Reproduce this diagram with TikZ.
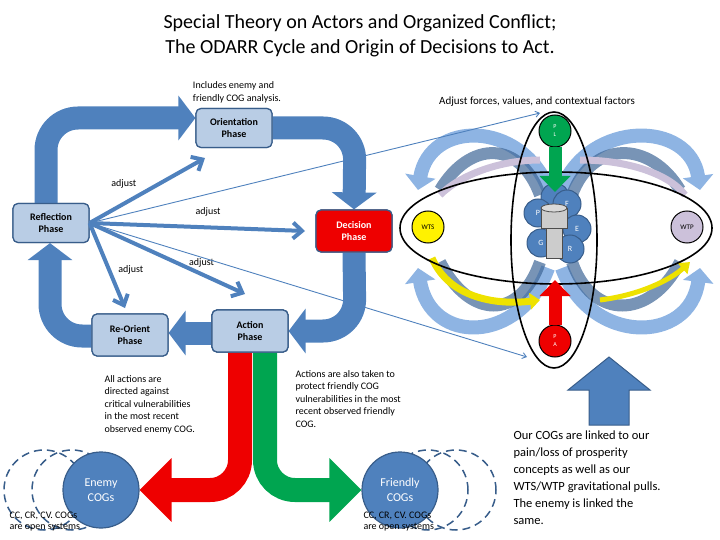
\documentclass[tikz,border=0pt]{standalone}
\usepackage{fontspec}
\setmainfont{Carlito}
\usetikzlibrary{arrows.meta,shapes.geometric}
\definecolor{band}{HTML}{4F81BD}
\definecolor{boxfill}{HTML}{B9CDE5}
\definecolor{boxline}{HTML}{385D8A}
\definecolor{lightarc}{HTML}{8EB4E3}
\definecolor{ocol}{HTML}{00A550}
\definecolor{rcol}{HTML}{EE0000}
\definecolor{wtp}{HTML}{CCC1DA}
\tikzset{
  phase/.style={draw=boxline, line width=1.2pt, fill=boxfill, rounded corners=5pt,
    minimum width=76pt, minimum height=39pt, align=center, font=\fontsize{10}{12}\selectfont\bfseries},
  loop/.style={draw=band, line width=23pt, rounded corners=32pt,
    -{Triangle[width=44pt,length=17pt]}},
  adj/.style={draw=band, line width=4pt, -{Straight Barb[width=16pt,length=9pt]}},
  thin/.style={draw=band, line width=0.9pt, -{Straight Barb[width=6pt,length=4pt]}},
  ball/.style={circle, draw=black, line width=1pt, minimum size=32pt, inner sep=0pt,
    font=\fontsize{7}{8}\selectfont},
  cog/.style={circle, fill=band, draw=boxline, line width=1pt, minimum size=28pt, inner sep=0pt,
    text=white, font=\fontsize{8}{9}\selectfont},
  big/.style={circle, fill=band, draw=boxline, line width=1.2pt, minimum size=76pt,
    align=center, text=white, font=\fontsize{12}{15}\selectfont},
  dsh/.style={circle, draw=boxline, dashed, line width=1.5pt, dash pattern=on 8pt off 5pt, minimum size=80pt},
  arcA/.style={draw=lightarc, line width=14pt, -{Triangle[width=30pt,length=14pt]}},
  arcB/.style={draw=band!80!black, opacity=0.7, line width=12pt},
  txt/.style={align=left, font=\fontsize{10}{12.5}\selectfont},
}
\begin{document}
\begin{tikzpicture}[x=1pt,y=-1pt]
\useasboundingbox (0,0) rectangle (720,540);

% title
\node[font=\fontsize{20}{25}\selectfont, align=center] (title) at (360,36)
  {Special Theory on Actors and Organized Conflict;\\The ODARR Cycle and Origin of Decisions to Act.};
\node[txt, font=\fontsize{10}{13}\selectfont] (inc) at (237,92) {Includes enemy and\\friendly COG analysis.};
\node[font=\fontsize{11}{13}\selectfont] (adjf) at (537,102) {Adjust forces, values, and contextual factors};

% phase boxes
\node[phase] (ori) at (234,128) {Orientation\\Phase};
\node[phase] (ref) at (51,223) {Reflection\\Phase};
\node[phase, fill=rcol, text=white, minimum height=42pt] (dec) at (354,231) {Decision\\Phase};
\node[phase, minimum height=42pt] (reo) at (130,335) {Re-Orient\\Phase};
\node[phase, minimum height=42pt] (act) at (250,331) {Action\\Phase};

% main loop
\coordinate (c1) at (46,118);  \coordinate (c2) at (355,128);
\coordinate (c3) at (355,331); \coordinate (c4) at (50,336);
\begin{scope}[on background layer/.style={}]
\draw[loop] (ref.north -| 46,0) -- (c1) -- (ori.west |- c1);
\draw[loop] (ori.east |- c2) -- (c2) -- (dec.north);
\draw[loop] (dec.south) -- (c3) -- (act.east |- c3);
\draw[loop] (act.west |- 0,333) -- (reo.east |- 0,333);
\draw[loop] (reo.west |- c4) -- (c4) -- (ref.south -| 50,0);
\end{scope}
\node[phase] at (ori) {Orientation\\Phase};
\node[phase] at (ref) {Reflection\\Phase};
\node[phase, fill=rcol, text=white, minimum height=42pt] at (dec) {Decision\\Phase};
\node[phase, minimum height=42pt] at (reo) {Re-Orient\\Phase};
\node[phase, minimum height=42pt] at (act) {Action\\Phase};

% adjust arrows
\coordinate (a1) at (205,158); \coordinate (a2) at (305,231);
\coordinate (a3) at (245,294); \coordinate (a4) at (125,308);
\draw[adj] (ref.east) -- (a1) node[pos=0.45, above left, black, font=\fontsize{10}{12}\selectfont] {adjust};
\draw[adj] (ref.east) -- (a2) node[pos=0.55, above=6pt, black, font=\fontsize{10}{12}\selectfont] {adjust};
\draw[adj] (ref.east) -- (a3) node[pos=0.72, above=2pt, black, font=\fontsize{10}{12}\selectfont] {adjust};
\draw[adj] (ref.east) -- (a4) node[pos=0.55, right=4pt, black, font=\fontsize{10}{12}\selectfont] {adjust};

% globe
\coordinate (g) at (556,228);
\draw[arcA] (548,188) .. controls (520,120) and (430,120) .. (418,190);
\draw[arcA] (548,268) .. controls (520,345) and (430,345) .. (418,268);
\draw[arcA] (562,188) .. controls (590,120) and (690,120) .. (700,190);
\draw[arcA] (562,268) .. controls (590,345) and (690,345) .. (700,268);
\draw[arcB] (540,195) .. controls (520,140) and (470,140) .. (440,190);
\draw[arcB] (572,195) .. controls (592,140) and (650,140) .. (680,190);
\draw[arcB] (540,262) .. controls (520,320) and (470,320) .. (440,262);
\draw[arcB] (572,262) .. controls (592,320) and (650,320) .. (680,262);
\draw[draw=yellow!85!olive, line width=7pt, -{Triangle[width=16pt,length=10pt]}]
  (432,258) .. controls (450,300) and (500,305) .. (540,300);
\draw[draw=yellow!85!olive, line width=5pt, -{Triangle[width=14pt,length=10pt]}]
  (600,300) .. controls (640,295) and (670,280) .. (690,262);
\draw[draw=wtp, line width=7pt] (440,195) .. controls (460,175) and (500,160) .. (540,160);
\draw[draw=wtp, line width=7pt] (580,160) .. controls (630,160) and (670,175) .. (685,195);
\node[ellipse, draw, line width=1.6pt, minimum width=312pt, minimum height=112pt] (hor) at (g) {};
\node[ellipse, draw, line width=1.6pt, minimum width=86pt, minimum height=256pt] (ver) at (554,240) {};

\node[ball, fill=ocol, text=white, align=center, font=\fontsize{6}{8}\selectfont] (pl) at (555,131) {P\\L};
\node[ball, fill=rcol, text=white, align=center, font=\fontsize{6}{8}\selectfont] (pa) at (555,341) {P\\A};
\node[ball, fill=yellow] (wts) at (428,227) {WTS};
\node[ball, fill=wtp] (wtp) at (687,227) {WTP};

\node[cog] (c6) at (555,197) {};
\node[cog] (cF) at (567,204) {F};
\node[cog] (cP) at (538,213) {P};
\node[cog] (cE) at (577,229) {E};
\node[cog] (cG) at (541,243) {G};
\node[cog] (cR) at (570,249) {R};
\fill[gray!40, draw=black!70, line width=0.8pt] (541,208) rectangle (567,228);
\fill[gray!40, draw=black!70, line width=0.8pt] (546,228) rectangle (562,258);
\draw[fill=gray!30, draw=black!70, line width=0.8pt] (554,208) ellipse (13pt and 4pt);

\draw[draw=ocol, line width=13pt, -{Triangle[width=30pt,length=16pt]}] (pl.south) -- (555,192);
\draw[draw=rcol, line width=13pt, -{Triangle[width=30pt,length=16pt]}] (pa.north) -- (555,280);

% thin long arrows
\coordinate (t1) at (540,113); \coordinate (t2) at (527,357);
\draw[thin] (ref.east) -- (t1);
\draw[thin] (ref.east) -- (t2);

% big up arrow
\fill[band, draw=boxline, line width=1pt] (589,425) -- (589,390) -- (568,390) -- (609,357) -- (650,390) -- (629,390) -- (629,425) -- cycle;

% red/green arrows to COG groups
\node[dsh] (e2) at (44,490) {};
\node[dsh] (e1) at (72,490) {};
\node[big] (en) at (101,490) {Enemy\\COGs};
\node[dsh] (f2) at (456,490) {};
\node[dsh] (f1) at (428,490) {};
\node[big] (fr) at (400,490) {Friendly\\COGs};
\draw[draw=rcol, line width=24pt, rounded corners=30pt, -{Triangle[width=62pt,length=32pt]}]
  (act.south -| 240,0) -- (240,490) -- (en.east);
\draw[draw=ocol, line width=24pt, rounded corners=30pt, -{Triangle[width=62pt,length=32pt]}]
  (act.south -| 265,0) -- (265,490) -- (fr.west);
\node[phase, minimum height=42pt] at (act) {Action\\Phase};

% texts
\node[txt, anchor=north west] (tl) at (101,372) {All actions are\\directed against\\critical vulnerabilities\\in the most recent\\observed enemy COG.};
\node[txt, anchor=north west] (tr) at (292,367) {Actions are also taken to\\protect friendly COG\\vulnerabilities in the most\\recent observed friendly\\COG.};
\node[txt, anchor=north west, font=\fontsize{12.5}{17}\selectfont] (tb) at (510,427) {Our COGs are linked to our\\pain/loss of prosperity\\concepts as well as our\\WTS/WTP gravitational pulls.\\The enemy is linked the\\same.};
\node[txt, anchor=north west, font=\fontsize{10}{11.5}\selectfont] (le) at (6,508) {CC, CR, CV. COGs\\are open systems};
\node[txt, anchor=north west, font=\fontsize{10}{11.5}\selectfont] (lf) at (360,508) {CC, CR, CV. COGs\\are open systems};
\end{tikzpicture}
\end{document}
